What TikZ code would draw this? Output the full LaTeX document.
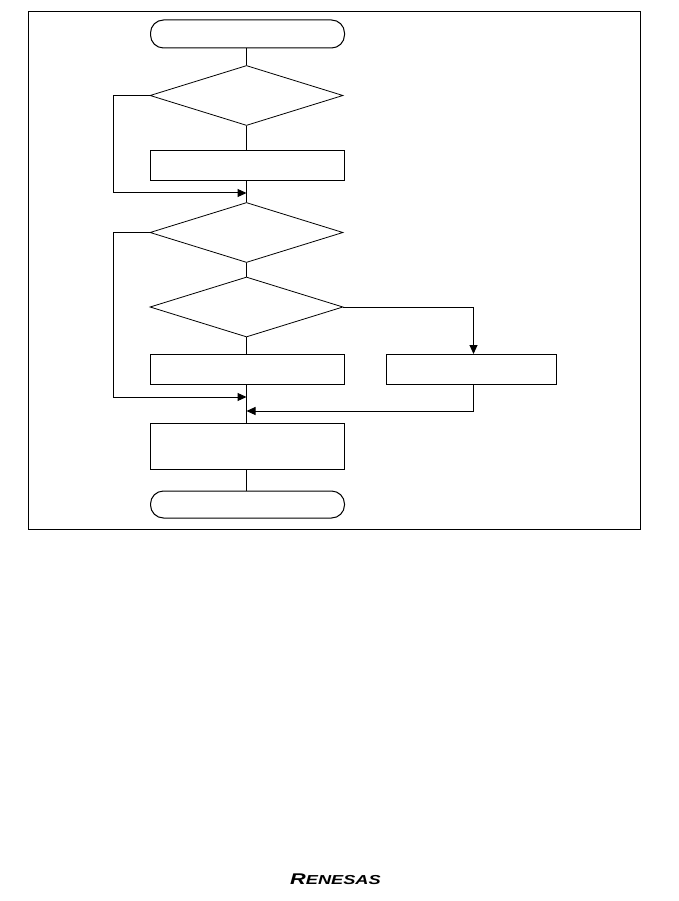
\documentclass[tikz,border=0pt]{standalone}
\usepackage{fontspec}
\usepackage{tikz}
\usetikzlibrary{shapes.geometric,arrows.meta}
\newfontfamily\logofont{Liberation Sans}
\tikzset{
  flowbox/.style={draw, rectangle, line width=1pt, inner sep=0pt, minimum width=194pt},
  flowend/.style={flowbox, rounded corners=13pt},
  flowdec/.style={draw, diamond, line width=0.8pt, inner sep=0pt, minimum width=193pt, minimum height=60pt},
  flowline/.style={line width=1pt},
  flowarrow/.style={line width=1pt, -{Triangle[length=9pt,width=8pt]}}
}
\begin{document}
\begin{tikzpicture}[x=1pt,y=-1pt]
\useasboundingbox (0,0) rectangle (679,901);
\node [draw, line width=1pt, minimum width=611.5pt, minimum height=517.5pt, inner sep=0pt] (frame) at (334.25,270.25) {};
\node [flowend, minimum height=28pt] (start) at (247.5,34) {};
\node [flowdec] (decA) at (246.5,95.5) {};
\node [flowbox, minimum height=30pt] (boxA) at (247.5,165.5) {};
\node [flowdec] (decB) at (246.5,232.5) {};
\node [flowdec] (decC) at (246.5,307) {};
\node [flowbox, minimum height=30.5pt] (boxB) at (247.5,369.25) {};
\node [flowbox, minimum width=170pt, minimum height=30.5pt] (boxC) at (471.5,369.25) {};
\node [flowbox, minimum height=46pt] (boxD) at (247.5,446) {};
\node [flowend, minimum height=27pt] (stop) at (247.5,504.5) {};
\node [font=\logofont\bfseries\itshape, xscale=1.4, yscale=1.0, inner sep=0pt] (logo) at (335.5,879) {\fontsize{15.5}{15.5}\selectfont R\fontsize{13}{13}\selectfont ENESAS};
% merge points on the main line
\coordinate (mergeA) at (246.5,193);
\coordinate (mergeB) at (246.5,397);
\coordinate (mergeC) at (246.5,411);
\coordinate (leftA) at (113.5,95.5);
\coordinate (leftB) at (113.5,232.5);
\coordinate (dropC) at (473.5,354);
\coordinate (riseC) at (473.5,384.5);
\draw [flowline] (decA.north |- start.south) -- (decA.north);
\draw [flowline] (decA.south) -- (decA.south |- boxA.north);
\draw [flowline] (decB.north |- boxA.south) -- (decB.north);
\draw [flowline] (decB.south) -- (decC.north);
\draw [flowline] (decC.south) -- (decC.south |- boxB.north);
\draw [flowline] (decC.south |- boxB.south) -- (decC.south |- boxD.north);
\draw [flowline] (decC.south |- boxD.south) -- (decC.south |- stop.north);
\draw [flowarrow] (decA.west) -- (leftA) |- (mergeA);
\draw [flowarrow] (decB.west) -- (leftB) |- (mergeB);
\draw [flowarrow] (decC.east) -| (dropC);
\draw [flowarrow] (riseC) |- (mergeC);
\end{tikzpicture}
\end{document}
